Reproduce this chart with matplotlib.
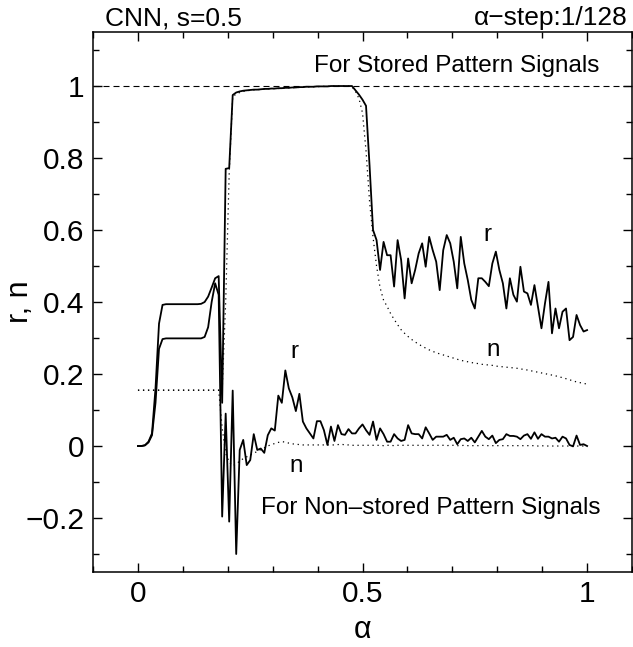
import numpy as np
import matplotlib
matplotlib.use("Agg")
import matplotlib.pyplot as plt
from matplotlib.ticker import MultipleLocator, FuncFormatter

plt.rcParams['font.family'] = ['Liberation Sans', 'DejaVu Sans']

# alpha grid, step 1/128
alpha = np.arange(129) / 128.0

# overlaps for stored patterns (upper curves)
stored_r = [
    0.0, 0.0, 0.002, 0.012, 0.035, 0.16, 0.34, 0.392, 0.394, 0.394,
    0.394, 0.394, 0.394, 0.394, 0.394, 0.394, 0.394, 0.394, 0.395, 0.400,
    0.415, 0.440, 0.466, 0.472, 0.12, 0.77, 0.772, 0.975, 0.982, 0.985,
    0.987, 0.988, 0.989, 0.990, 0.990, 0.991, 0.992, 0.992, 0.993, 0.993,
    0.994, 0.994, 0.995, 0.995, 0.996, 0.996, 0.997, 0.997, 0.998, 0.998,
    0.998, 0.999, 0.999, 0.999, 0.999, 1.0, 1.0, 1.0, 1.0, 1.0,
    1.0, 1.0, 0.988, 0.976, 0.962, 0.945, 0.78, 0.600, 0.572, 0.489,
    0.567, 0.530, 0.530, 0.443, 0.572, 0.517, 0.410, 0.521, 0.452, 0.489,
    0.535, 0.563, 0.498, 0.581, 0.544, 0.512, 0.433, 0.544, 0.586, 0.563,
    0.512, 0.438, 0.581, 0.507, 0.461, 0.406, 0.382, 0.466, 0.466, 0.456,
    0.444, 0.507, 0.540, 0.489, 0.452, 0.382, 0.466, 0.420, 0.401, 0.498,
    0.429, 0.424, 0.392, 0.447, 0.387, 0.327, 0.396, 0.456, 0.313, 0.382,
    0.327, 0.373, 0.382, 0.294, 0.303, 0.364, 0.336, 0.318, 0.322,
]
stored_n = [
    0.155, 0.155, 0.155, 0.155, 0.155, 0.155, 0.155, 0.155, 0.155, 0.155,
    0.155, 0.155, 0.155, 0.155, 0.155, 0.155, 0.155, 0.155, 0.155, 0.155,
    0.155, 0.155, 0.155, 0.155, 0.155, 0.40, 0.757, 0.970, 0.978, 0.982,
    0.985, 0.987, 0.988, 0.989, 0.990, 0.990, 0.991, 0.992, 0.992, 0.993,
    0.993, 0.994, 0.994, 0.995, 0.995, 0.996, 0.996, 0.997, 0.997, 0.998,
    0.998, 0.998, 0.999, 0.999, 0.999, 0.999, 1.0, 1.0, 1.0, 1.0,
    1.0, 0.998, 0.985, 0.965, 0.925, 0.82, 0.68, 0.58, 0.50, 0.44,
    0.405, 0.388, 0.368, 0.352, 0.337, 0.323, 0.313, 0.304, 0.296, 0.289,
    0.283, 0.277, 0.272, 0.267, 0.263, 0.259, 0.256, 0.253, 0.250, 0.247,
    0.244, 0.241, 0.238, 0.236, 0.234, 0.232, 0.230, 0.229, 0.227, 0.226,
    0.225, 0.224, 0.222, 0.221, 0.220, 0.219, 0.218, 0.217, 0.216, 0.214,
    0.213, 0.211, 0.209, 0.207, 0.205, 0.203, 0.201, 0.199, 0.197, 0.195,
    0.192, 0.190, 0.187, 0.184, 0.181, 0.178, 0.176, 0.174, 0.172,
]

# overlaps for non-stored patterns (lower curves)
nonstored_r = [
    0.0, 0.0, 0.002, 0.010, 0.030, 0.12, 0.27, 0.297, 0.299, 0.299,
    0.299, 0.299, 0.299, 0.299, 0.299, 0.299, 0.299, 0.299, 0.299, 0.303,
    0.33, 0.40, 0.452, 0.42, -0.196, 0.09, -0.21, 0.154, -0.30, -0.011,
    0.017, -0.053, -0.039, 0.033, -0.011, -0.007, -0.019, 0.030, 0.049, 0.043,
    0.14, 0.12, 0.21, 0.16, 0.135, 0.097, 0.145, 0.068, 0.049, 0.035,
    0.021, 0.069, 0.069, 0.044, 0.003, 0.054, 0.014, 0.058, 0.033, 0.031,
    0.047, 0.035, 0.035, 0.049, 0.060, 0.044, 0.031, 0.068, 0.017, 0.049,
    0.033, 0.012, 0.012, 0.033, 0.021, 0.014, 0.017, 0.058, 0.035, 0.033,
    0.033, 0.021, 0.052, 0.035, 0.017, 0.026, 0.026, 0.026, 0.031, 0.017,
    0.023, 0.005, 0.019, 0.021, 0.014, 0.023, 0.010, 0.026, 0.042, 0.026,
    0.019, 0.029, 0.008, 0.017, 0.019, 0.033, 0.028, 0.028, 0.026, 0.019,
    0.029, 0.033, 0.020, 0.038, 0.020, 0.033, 0.026, 0.026, 0.021, 0.023,
    0.012, 0.026, 0.021, 0.003, -0.001, 0.029, 0.003, 0.005, 0.0,
]
nonstored_n = [
    0.155, 0.155, 0.155, 0.155, 0.155, 0.155, 0.155, 0.155, 0.155, 0.155,
    0.155, 0.155, 0.155, 0.155, 0.155, 0.155, 0.155, 0.155, 0.155, 0.155,
    0.155, 0.155, 0.155, 0.155, 0.05, -0.02, -0.045, -0.055, -0.05, -0.042,
    -0.035, -0.03, -0.025, -0.02, -0.015, -0.01, -0.005, 0.0, 0.004, 0.007,
    0.010, 0.012, 0.011, 0.008, 0.006, 0.005, 0.004, 0.003, 0.003, 0.003,
    0.003, 0.003, 0.003, 0.003, 0.003, 0.003, 0.003, 0.004, 0.005, 0.003,
    0.003, 0.002, 0.002, 0.002, 0.002, 0.002, 0.002, 0.002, 0.002, 0.002,
    0.001, 0.002, 0.002, 0.001, 0.002, 0.002, 0.002, 0.002, 0.002, 0.002,
    0.002, 0.002, 0.001, 0.002, 0.002, 0.002, 0.002, 0.002, 0.001, 0.002,
    0.002, 0.001, 0.001, 0.002, 0.001, 0.001, 0.001, 0.001, 0.002, 0.001,
    0.001, 0.001, 0.001, 0.001, 0.001, 0.001, 0.001, 0.001, 0.001, 0.001,
    0.001, 0.001, 0.001, 0.001, 0.0, 0.001, 0.0, 0.0, 0.0, 0.0,
    0.0, 0.0, 0.0, 0.0, 0.0, 0.0, 0.0, 0.0, 0.0,
]

xticks = [0, 0.5, 1]
yticks = [-0.2, 0, 0.2, 0.4, 0.6, 0.8, 1]

fig = plt.figure(figsize=(6.33, 6.47), dpi=100)
ax = fig.add_axes([0.147, 0.1159, 0.8514, 0.8346])

dots = (0, (1, 3))
ax.axhline(1.0, color='black', lw=0.8, ls=(0, (5.4, 3.6)))
ax.plot(alpha, stored_n, color='black', lw=0.9, ls=dots)
ax.plot(alpha, nonstored_n, color='black', lw=0.9, ls=dots)
ax.plot(alpha, stored_r, color='black', lw=1.3)
ax.plot(alpha, nonstored_r, color='black', lw=1.3)

ax.set_xlim(-0.1, 1.1)
ax.set_ylim(-0.35, 1.15)
ax.set_xticks(xticks)
ax.set_yticks(yticks)
ax.xaxis.set_minor_locator(MultipleLocator(0.1))
ax.yaxis.set_minor_locator(MultipleLocator(0.1))

def fmt(v, pos):
    s = '%g' % round(v, 2)
    return s.replace('-', '\u2212')

ax.xaxis.set_major_formatter(FuncFormatter(fmt))
ax.yaxis.set_major_formatter(FuncFormatter(fmt))

ax.tick_params(which='both', direction='in', top=True, right=True,
               labelsize=21.5, width=1.0)
ax.tick_params(which='major', length=6.5, pad=6)
ax.tick_params(which='minor', length=4)
for sp in ax.spines.values():
    sp.set_linewidth(1.1)

ax.set_xlabel('\u03b1', fontsize=22)
ax.xaxis.label.set_va('baseline')
ax.xaxis.set_label_coords(0.5, -0.122)
ax.set_ylabel('r, n', fontsize=22)
ax.yaxis.label.set_va('center')
ax.yaxis.set_label_coords(-0.135, 0.5)

# headers above the frame
ax.text(0.022, 1.013, 'CNN, s=0.5', transform=ax.transAxes,
        ha='left', va='baseline', fontsize=19)
ax.text(0.991, 1.013, '\u03b1\u2212step:1/128', transform=ax.transAxes,
        ha='right', va='baseline', fontsize=19)

# annotations inside
ax.text(1.027, 1.039, 'For Stored Pattern Signals', ha='right', va='baseline', fontsize=17.5)
ax.text(1.029, -0.188, 'For Non\u2013stored Pattern Signals', ha='right', va='baseline', fontsize=17.5)
ax.text(0.777, 0.570, 'r', ha='center', va='baseline', fontsize=17.5)
ax.text(0.790, 0.250, 'n', ha='center', va='baseline', fontsize=17.5)
ax.text(0.349, 0.245, 'r', ha='center', va='baseline', fontsize=17.5)
ax.text(0.353, -0.071, 'n', ha='center', va='baseline', fontsize=17.5)

fig.savefig('out.png', dpi=100)
